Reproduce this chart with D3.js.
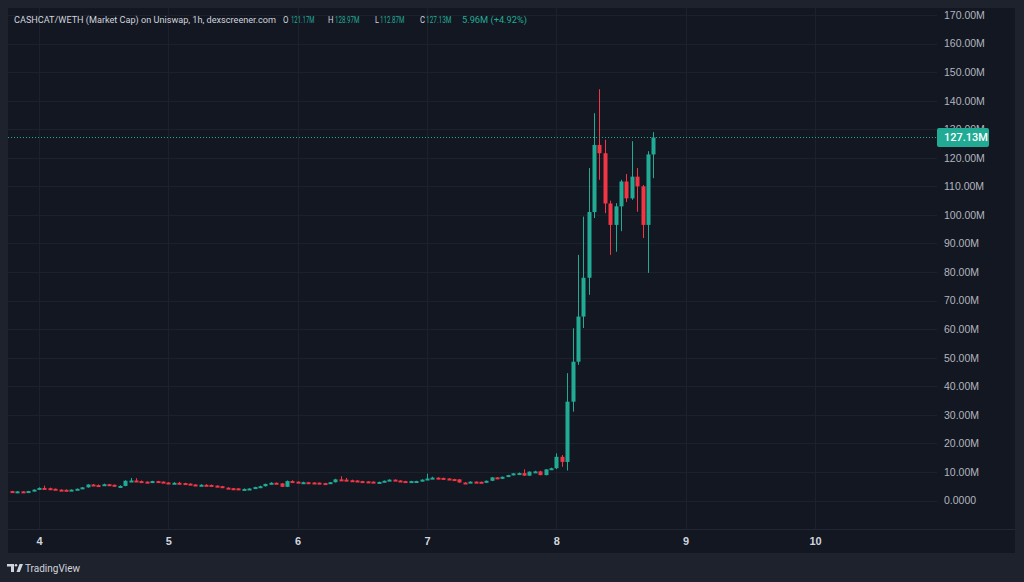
<!DOCTYPE html>
<html>
<head>
<meta charset="utf-8">
<script src="https://cdn.jsdelivr.net/npm/d3@7/dist/d3.min.js"></script>
<style>
  body { margin: 0; background: #1e222d; }
  svg { display: block; font-family: Roboto, "Open Sans", sans-serif; }
</style>
</head>
<body>
<svg id="chart"></svg>
<script>
// Hourly candles, market cap in millions. First candle is day 3, 19:00.
const startHour = -5;
const firstOpen = 3.3;

const closes = [
  3.0, 3.2, 3.1, 3.3, 3.8, 4.4, 4.3, 4.1, 3.8, 3.75,
  3.7, 3.8, 4.1, 4.6, 5.6, 5.4, 5.3, 5.7, 5.5, 5.0,
  5.1, 6.9, 7.0, 6.8, 6.6, 6.4, 6.8, 6.6, 6.3, 6.0,
  6.2, 6.1, 5.9, 5.6, 5.2, 5.5, 5.45, 5.2, 5.0, 4.5,
  4.3, 4.25, 4.0, 4.05, 4.2, 4.7, 5.0, 5.8, 6.2, 6.0,
  4.8, 6.8, 6.6, 6.3, 6.4, 6.3, 6.25, 6.1, 5.9, 6.4,
  7.4, 7.3, 7.1, 7.0, 6.8, 6.7, 6.6, 6.3, 6.5, 6.9,
  7.3, 7.0, 6.8, 6.78, 6.8, 6.82, 7.3, 7.7, 8.0, 7.9,
  7.7, 7.5, 7.4, 6.3, 6.25, 6.6, 6.55, 6.3, 6.9, 8.1,
  7.6, 8.3, 8.9, 9.5, 9.6, 8.7, 10.1, 10.2, 8.9, 10.9,
  11.3, 15.3, 13.5, 34.6, 48.6, 64.4, 78.0, 101.0, 124.5, 121.6,
  104.0, 96.5, 103.0, 111.7, 105.8, 113.4, 110.0, 96.5, 121.17, 127.13
];

const highs = [
  3.4, 3.3, 3.3, 3.4, 3.9, 4.6, 5.2, 4.5, 4.2, 3.9,
  3.9, 3.9, 4.2, 4.7, 5.7, 5.8, 5.6, 5.9, 5.8, 5.6,
  5.3, 7.1, 7.9, 7.8, 7.0, 6.7, 6.9, 6.9, 6.7, 6.4,
  6.4, 6.5, 6.2, 6.0, 5.7, 5.7, 5.7, 5.6, 5.3, 5.1,
  4.6, 4.4, 4.3, 4.2, 4.3, 4.8, 5.2, 5.9, 6.4, 6.3,
  6.1, 7.0, 7.1, 6.7, 6.6, 6.5, 6.4, 6.3, 6.2, 6.5,
  7.6, 8.5, 7.9, 7.3, 7.1, 6.9, 6.8, 6.7, 6.6, 7.0,
  7.4, 7.4, 7.1, 6.9, 6.9, 6.9, 7.4, 9.4, 8.3, 8.1,
  8.0, 7.8, 7.6, 7.5, 6.4, 6.7, 6.7, 6.6, 7.0, 8.2,
  8.2, 8.4, 9.0, 9.6, 9.8, 10.9, 10.2, 10.4, 10.4, 11.0,
  11.5, 16.5, 15.9, 44.6, 60.3, 86.0, 99.4, 116.4, 135.6, 144.0,
  126.3, 105.0, 104.1, 112.3, 114.3, 125.8, 116.4, 110.5, 122.3, 128.97
];

const lows = [
  2.9, 2.9, 3.0, 3.0, 3.2, 3.7, 4.2, 4.0, 3.7, 3.6,
  3.6, 3.6, 3.7, 4.0, 4.5, 5.3, 5.2, 5.2, 5.3, 4.9,
  4.9, 5.0, 6.8, 6.7, 6.5, 6.3, 6.3, 6.5, 6.2, 5.9,
  5.9, 6.0, 5.8, 5.5, 5.1, 5.1, 5.3, 5.1, 4.9, 4.4,
  4.2, 4.1, 3.9, 3.9, 4.0, 4.1, 4.6, 4.9, 5.7, 5.9,
  4.7, 4.7, 6.5, 6.2, 6.2, 6.2, 6.1, 6.0, 5.8, 5.8,
  6.3, 7.2, 7.0, 6.9, 6.7, 6.6, 6.5, 6.2, 6.2, 6.4,
  6.8, 6.9, 6.7, 6.7, 6.7, 6.7, 6.7, 7.2, 7.6, 7.8,
  7.6, 7.4, 7.3, 6.2, 6.1, 6.2, 6.4, 6.2, 6.2, 6.8,
  7.5, 7.5, 8.2, 8.8, 9.4, 8.6, 8.6, 10.0, 8.8, 8.8,
  10.7, 11.0, 11.8, 10.5, 31.1, 47.5, 60.4, 72.0, 98.9, 112.3,
  100.6, 86.0, 87.1, 94.3, 104.5, 105.3, 101.1, 91.9, 79.7, 112.87
];

const dayLabels = [4, 5, 6, 7, 8, 9, 10];
const priceTicks = [0, 10, 20, 30, 40, 50, 60, 70, 80, 90, 100, 110, 120, 130, 140, 150, 160, 170];

const titleText = "CASHCAT/WETH (Market Cap) on Uniswap, 1h, dexscreener.com";
const ohlcKeys = ["O", "H", "L", "C"];
const ohlcValues = ["121.17M", "128.97M", "112.87M", "127.13M"];
const changeText = "5.96M (+4.92%)";
const lastPrice = 127.13;

// Set svg size and pane box.
const width = 1024;
const height = 582;
const pane = { left: 8, top: 8, right: 1015, bottom: 553 };
const plotRight = 937;
const timeAxisTop = 529.5;

const upColor = "#22ab94";
const downColor = "#f23645";
const gridColor = "#1d212c";

const svg = d3.select("#chart")
  .attr("width", width)
  .attr("height", height);

function translate(x, y) {
  return "translate(" + String(x) + "," + String(y) + ")";
}

// Hours from day 4 00:00 to pixels.
const xScale = d3.scaleLinear()
  .domain([0, 144])
  .range([39, 815]);

// Millions to pixels.
const yScale = d3.scaleLinear()
  .domain([0, 170])
  .range([500.5, 15]);

const candles = closes.map((c, i) => ({
  hour: startHour + i,
  open: i == 0 ? firstOpen : closes[i - 1],
  high: highs[i],
  low: lows[i],
  close: c
}));

drawPane();
drawGrid();
drawPriceAxis();
drawTimeAxis();
drawCandles(candles);
drawLastPrice();
drawHeader();
drawLogo();

function drawPane() {
  svg.append("rect")
    .attr("width", width)
    .attr("height", height)
    .attr("fill", "#1e222d");

  svg.append("rect")
    .attr("x", pane.left)
    .attr("y", pane.top)
    .attr("width", pane.right - pane.left)
    .attr("height", pane.bottom - pane.top)
    .attr("fill", "#131722");

  svg.append("line")
    .attr("x1", pane.left).attr("x2", pane.right)
    .attr("y1", timeAxisTop).attr("y2", timeAxisTop)
    .attr("stroke", "#232733");
}

function drawGrid() {
  let grid = svg.append("g").attr("id", "grid");

  grid.selectAll("line.h")
    .data(priceTicks)
    .enter()
    .append("line")
    .attr("class", "h")
    .attr("x1", pane.left)
    .attr("x2", plotRight)
    .attr("y1", d => Math.round(yScale(d)) + 0.5)
    .attr("y2", d => Math.round(yScale(d)) + 0.5)
    .attr("stroke", gridColor);

  grid.selectAll("line.v")
    .data(dayLabels)
    .enter()
    .append("line")
    .attr("class", "v")
    .attr("x1", d => Math.round(xScale((d - 4) * 24)) + 0.5)
    .attr("x2", d => Math.round(xScale((d - 4) * 24)) + 0.5)
    .attr("y1", pane.top)
    .attr("y2", timeAxisTop)
    .attr("stroke", gridColor);
}

function drawPriceAxis() {
  let axis = d3.axisRight(yScale)
    .tickValues(priceTicks)
    .tickSize(0)
    .tickPadding(0)
    .tickFormat(d => d == 0 ? "0.0000" : d.toFixed(2) + "M");

  let g = svg.append("g")
    .attr("id", "price-axis")
    .attr("transform", translate(944, 0))
    .call(axis);

  g.select(".domain").remove();
  g.selectAll("text")
    .attr("fill", "#b2b5be")
    .style("font-size", "10.5px");
}

function drawTimeAxis() {
  let axis = d3.axisBottom(xScale)
    .tickValues(dayLabels.map(d => (d - 4) * 24))
    .tickSize(0)
    .tickPadding(0)
    .tickFormat((d, i) => String(dayLabels[i]));

  let g = svg.append("g")
    .attr("id", "time-axis")
    .attr("transform", translate(0, 537.5))
    .call(axis);

  g.select(".domain").remove();
  g.selectAll("text")
    .attr("fill", "#d1d4dc")
    .style("font-size", "11px")
    .style("font-weight", "600");
}

function drawCandles(data) {
  let g = svg.append("g").attr("id", "candles");

  let color = d => d.close >= d.open ? upColor : downColor;

  g.selectAll("line")
    .data(data)
    .enter()
    .append("line")
    .attr("x1", d => Math.round(xScale(d.hour)) + 0.5)
    .attr("x2", d => Math.round(xScale(d.hour)) + 0.5)
    .attr("y1", d => yScale(d.high))
    .attr("y2", d => yScale(d.low))
    .attr("stroke", color)
    .attr("stroke-width", 1);

  // tiny bodies still get a visible dash
  g.selectAll("rect")
    .data(data)
    .enter()
    .append("rect")
    .attr("x", d => Math.round(xScale(d.hour)) - 1.5)
    .attr("width", 4)
    .attr("y", d => yScale(Math.max(d.open, d.close)))
    .attr("height", d => Math.max(2, Math.abs(yScale(d.open) - yScale(d.close))))
    .attr("fill", color);
}

function drawLastPrice() {
  let y = Math.round(yScale(lastPrice)) + 0.5;

  svg.append("line")
    .attr("x1", pane.left)
    .attr("x2", plotRight)
    .attr("y1", y)
    .attr("y2", y)
    .attr("stroke", upColor)
    .attr("stroke-dasharray", "1,2");

  // the label box covers most of the 130.00M tick, as in TradingView
  svg.append("rect")
    .attr("x", 937)
    .attr("y", y - 9.5)
    .attr("width", 52)
    .attr("height", 19)
    .attr("rx", 2)
    .attr("fill", upColor);

  svg.append("text")
    .attr("x", 944)
    .attr("y", y)
    .attr("dy", "0.35em")
    .attr("fill", "#ffffff")
    .style("font-size", "11px")
    .style("font-weight", "500")
    .text(lastPrice.toFixed(2) + "M");
}

function drawHeader() {
  let header = svg.append("g")
    .attr("id", "header")
    .style("font-size", "9.5px");

  header.append("text")
    .attr("x", 14)
    .attr("y", 23)
    .attr("fill", "#d1d4dc")
    .attr("textLength", 262)
    .attr("lengthAdjust", "spacingAndGlyphs")
    .text(titleText);

  // key letter and value positions/widths
  let keyX = [283, 328, 375, 420];
  let keyW = [5.5, 5.5, 4, 5];
  let valX = [291, 335, 380, 426];
  let valW = [23.5, 24.5, 24.5, 25.5];

  ohlcKeys.forEach((k, i) => {
    header.append("text")
      .attr("x", keyX[i])
      .attr("y", 23)
      .attr("fill", "#d1d4dc")
      .attr("textLength", keyW[i])
      .attr("lengthAdjust", "spacingAndGlyphs")
      .text(k);

    header.append("text")
      .attr("x", valX[i])
      .attr("y", 23)
      .attr("fill", upColor)
      .attr("textLength", valW[i])
      .attr("lengthAdjust", "spacingAndGlyphs")
      .text(ohlcValues[i]);
  });

  header.append("text")
    .attr("x", 462)
    .attr("y", 23)
    .attr("fill", upColor)
    .attr("textLength", 65)
    .attr("lengthAdjust", "spacingAndGlyphs")
    .text(changeText);
}

function drawLogo() {
  let logo = svg.append("g")
    .attr("id", "logo")
    .attr("fill", "#d1d4dc");

  // "T" shape, dot and slanted stroke of the TradingView mark
  logo.append("path").attr("d", "M7 564 H14 V572 H11 V566.5 H7 Z");
  logo.append("circle").attr("cx", 16).attr("cy", 565.3).attr("r", 1.3);
  logo.append("path").attr("d", "M19.5 564 H23 L19.8 572 H16.5 Z");

  logo.append("text")
    .attr("x", 25)
    .attr("y", 571.5)
    .attr("textLength", 55)
    .attr("lengthAdjust", "spacingAndGlyphs")
    .style("font-size", "10.5px")
    .text("TradingView");
}
</script>
</body>
</html>
